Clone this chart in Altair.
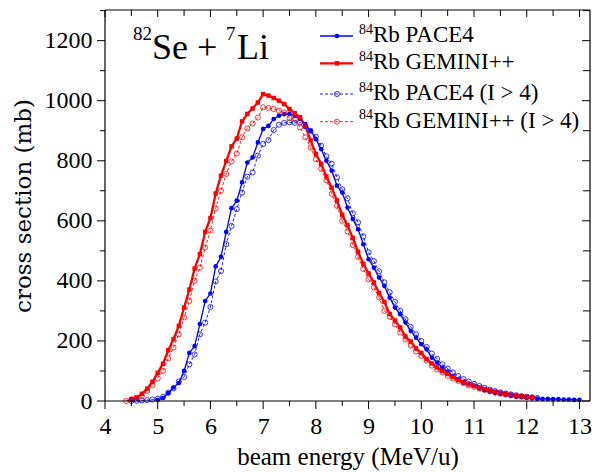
import altair as alt
import pandas as pd

# ---------------- data ----------------
ENERGY = [4.4, 4.5, 4.6, 4.7, 4.8, 4.9,
          5.0, 5.1, 5.2, 5.3, 5.4, 5.5, 5.6, 5.7, 5.8, 5.9,
          6.0, 6.1, 6.2, 6.3, 6.4, 6.5, 6.6, 6.7, 6.8, 6.9,
          7.0, 7.1, 7.2, 7.3, 7.4, 7.5, 7.6, 7.7, 7.8, 7.9,
          8.0, 8.1, 8.2, 8.3, 8.4, 8.5, 8.6, 8.7, 8.8, 8.9,
          9.0, 9.1, 9.2, 9.3, 9.4, 9.5, 9.6, 9.7, 9.8, 9.9,
          10.0, 10.1, 10.2, 10.3, 10.4, 10.5, 10.6, 10.7, 10.8, 10.9,
          11.0, 11.1, 11.2, 11.3, 11.4, 11.5, 11.6, 11.7, 11.8, 11.9,
          12.0, 12.1, 12.2, 12.3, 12.4, 12.5, 12.6, 12.7, 12.8, 12.9,
          13.0]

PACE4_START = 5.0
PACE4 = [3, 10, 26, 45, 60, 100, 160, 183, 256, 333,
         358, 448, 480, 563, 642, 667, 728, 794, 811, 861,
         906, 916, 939, 950, 955, 956, 950, 940, 922, 900,
         872, 839, 800, 767, 717, 694, 644, 606, 572, 522,
         472, 444, 411, 383, 344, 311, 289, 261, 233, 211,
         189, 172, 144, 128, 111, 98, 83, 72, 61, 56,
         50, 42, 36, 31, 26, 23, 20, 17, 14, 13,
         11, 9, 8, 7, 7, 6, 6, 5, 5, 4,
         4]

GEMINI_START = 4.5
GEMINI = [6, 11, 24, 41, 64,
          94, 124, 169, 206, 250, 311, 371, 441, 489, 563,
          609, 691, 750, 799, 848, 874, 931, 956, 974, 994,
          1022, 1017, 1009, 1000, 989, 972, 958, 945, 915, 868,
          823, 790, 748, 710, 668, 620, 585, 543, 497, 457,
          425, 395, 360, 330, 290, 268, 245, 215, 198, 175,
          160, 140, 125, 112, 100, 90, 80, 70, 62, 56,
          50, 45, 40, 35, 30, 27, 24, 21, 18, 16,
          14, 12]

PACE4_I4_START = 4.5
PACE4_I4 = [0, 1, 2, 3, 5,
            8, 14, 28, 42, 65, 80, 122, 155, 222, 261,
            313, 398, 433, 522, 583, 639, 694, 747, 761, 817,
            856, 869, 902, 920, 926, 928, 926, 928, 915, 900,
            880, 850, 815, 790, 745, 705, 675, 625, 595, 548,
            495, 466, 432, 395, 362, 330, 300, 272, 247, 222,
            200, 180, 158, 140, 122, 108, 95, 83, 73, 65,
            57, 50, 44, 38, 33, 29, 25, 22, 19, 16,
            14, 12, 10]

GEMINI_I4_START = 4.4
GEMINI_I4 = [0, 6, 11, 17, 33, 52,
             76, 100, 142, 178, 222, 278, 333, 400, 444, 511,
             567, 642, 700, 756, 798, 824, 878, 908, 924, 944,
             978, 976, 972, 967, 961, 942, 939, 911, 878, 844,
             805, 773, 735, 690, 650, 600, 565, 520, 480, 440,
             405, 378, 345, 300, 280, 255, 228, 205, 185, 165,
             150, 135, 118, 105, 95, 84, 75, 67, 60, 52,
             47, 42, 37, 33, 29, 25, 22, 19, 17, 15,
             13, 12]

X_MAJOR = [4, 5, 6, 7, 8, 9, 10, 11, 12, 13]
X_MINOR = [4.5, 5.5, 6.5, 7.5, 8.5, 9.5, 10.5, 11.5, 12.5]
Y_MAJOR = [0, 200, 400, 600, 800, 1000, 1200]
Y_MINOR = [100, 300, 500, 700, 900, 1100, 1300]

LEGEND_TEXT = ["Rb PACE4", "Rb GEMINI++", "Rb PACE4 (I > 4)", "Rb GEMINI++ (I > 4)"]

# ---------------- layout ----------------
W, H = 485, 391
FONT = "'Liberation Serif', 'Times New Roman', Times, serif"
WIDE_FONT = "'DejaVu Serif', serif"
BLUE, RED = "#0000FF", "#FF0000"

xs = alt.Scale(domain=[4, 13.2], nice=False, zero=False)
ys = alt.Scale(domain=[0, 1302], nice=False, zero=False)


def series_df(start, vals):
    keys = [round(e, 1) for e in ENERGY]
    i = keys.index(start)
    return pd.DataFrame({"energy": ENERGY[i:i + len(vals)], "cs": vals})


STYLES = [
    (series_df(PACE4_START, PACE4), BLUE, 1.3, [1, 0], "circle", True, 22),
    (series_df(GEMINI_START, GEMINI), RED, 2.3, [1, 0], "square", True, 20),
    (series_df(PACE4_I4_START, PACE4_I4), BLUE, 0.9, [3, 2], "circle", False, 26),
    (series_df(GEMINI_I4_START, GEMINI_I4), RED, 0.9, [3, 2], "circle", False, 26),
]

x_axis = alt.Axis(values=X_MAJOR, ticks=False, domain=False, grid=False,
                  labelFont=FONT, labelFontSize=24, labelColor="black",
                  labelPadding=13, labelFlush=False, labelOverlap=False, format="d",
                  title="beam energy (MeV/u)", titleFont=FONT, titleFontSize=25,
                  titleFontWeight="normal", titleColor="black", titlePadding=6)
y_axis = alt.Axis(values=Y_MAJOR, ticks=False, domain=False, grid=False,
                  labelFont=FONT, labelFontSize=24, labelColor="black",
                  labelPadding=13, labelFlush=False, labelOverlap=False, format="d",
                  title="cross section (mb)", titleFont=WIDE_FONT, titleFontSize=23,
                  titleFontWeight="normal", titleColor="black", titlePadding=9)


def X(field):
    return alt.X(field, scale=xs, axis=x_axis)


def Y(field):
    return alt.Y(field, scale=ys, axis=y_axis)


layers = []
for df, col, sw, dash, shape, filled, size in STYLES:
    line = alt.Chart(df).mark_line(color=col, strokeWidth=sw, strokeDash=dash).encode(
        x=X("energy:Q"), y=Y("cs:Q"))
    if filled:
        pts = alt.Chart(df).mark_point(shape=shape, filled=True, color=col, size=size, opacity=1).encode(
            x=X("energy:Q"), y=Y("cs:Q"))
    else:
        pts = alt.Chart(df).mark_point(shape=shape, filled=False, color=col, size=size,
                                       strokeWidth=0.8, opacity=1).encode(
            x=X("energy:Q"), y=Y("cs:Q"))
    layers += [line, pts]


# ---------------- ticks ----------------
def xticks(vals, y1, y2):
    return alt.Chart(pd.DataFrame({"energy": vals})).mark_rule(color="black", strokeWidth=1).encode(
        x=X("energy:Q"), y=alt.value(y1), y2=alt.value(y2))


def yticks(vals, x1, x2):
    return alt.Chart(pd.DataFrame({"cs": vals})).mark_rule(color="black", strokeWidth=1).encode(
        y=Y("cs:Q"), x=alt.value(x1), x2=alt.value(x2))


layers += [
    xticks(X_MAJOR, H, H + 8), xticks(X_MINOR, H, H + 5),
    xticks(X_MAJOR, 0, 7), xticks(X_MINOR, 0, 6),
    yticks(Y_MAJOR, 0, -8), yticks(Y_MINOR, 0, -5),
    yticks(Y_MAJOR, W, W - 8), yticks(Y_MINOR, W, W - 7),
]

# frame
one = pd.DataFrame({"a": [0]})
layers += [
    alt.Chart(one).mark_rule(color="black", strokeWidth=1.2).encode(x=alt.value(0), x2=alt.value(W), y=alt.value(0)),
    alt.Chart(one).mark_rule(color="black", strokeWidth=1.2).encode(x=alt.value(0), x2=alt.value(W), y=alt.value(H)),
    alt.Chart(one).mark_rule(color="black", strokeWidth=1.2).encode(y=alt.value(0), y2=alt.value(H), x=alt.value(0)),
    alt.Chart(one).mark_rule(color="black", strokeWidth=1.2).encode(y=alt.value(0), y2=alt.value(H), x=alt.value(W)),
]


# ---------------- texts ----------------
def txt(s, x, y, size):
    return alt.Chart(pd.DataFrame({"t": [s]})).mark_text(
        font=FONT, fontSize=size, color="black", align="left", baseline="alphabetic").encode(
        x=alt.value(x), y=alt.value(y), text="t:N")


layers += [txt("82", 28, 30, 19), txt("Se +", 47, 49, 36), txt("7", 121, 30, 19), txt("Li", 132, 49, 36)]

# ---------------- legend ----------------
LEG_Y = [26, 53.3, 84, 111.7]
for (df, col, sw, dash, shape, filled, size), ly, label in zip(STYLES, LEG_Y, LEGEND_TEXT):
    layers.append(alt.Chart(one).mark_rule(color=col, strokeWidth=sw, strokeDash=dash).encode(
        x=alt.value(215), x2=alt.value(248), y=alt.value(ly)))
    if filled:
        layers.append(alt.Chart(one).mark_point(shape=shape, filled=True, color=col, size=size, opacity=1).encode(
            x=alt.value(232), y=alt.value(ly)))
    else:
        layers.append(alt.Chart(one).mark_point(shape=shape, filled=False, color=col, size=size,
                                                strokeWidth=0.8, opacity=1).encode(
            x=alt.value(232), y=alt.value(ly)))
    layers.append(txt("84", 254, ly - 2.5, 14))
    layers.append(txt(label, 268, ly + 6, 23))

chart = alt.layer(*layers).properties(
    width=W, height=H,
    padding={"left": 97, "top": 2, "right": 10, "bottom": 70},
    autosize=alt.AutoSizeParams(type="none"),
    background="white",
).configure_view(stroke=None)

chart.save("out.html", embed_options={"renderer": "svg", "actions": False})
